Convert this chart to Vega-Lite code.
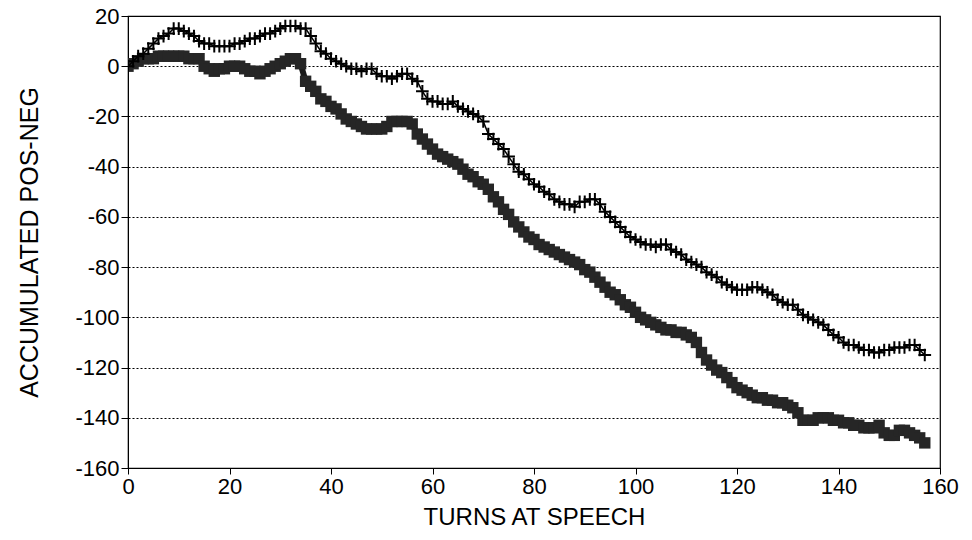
{
  "$schema": "https://vega.github.io/schema/vega-lite/v6.json",
  "width": 812,
  "height": 452,
  "autosize": {"type": "none"},
  "padding": {"left": 128, "top": 16, "right": 32, "bottom": 72},
  "background": "white",
  "config": {
    "view": {"stroke": "black", "strokeWidth": 1.2},
    "font": "Liberation Sans",
    "axis": {
      "domainColor": "black",
      "tickColor": "black",
      "labelColor": "black",
      "titleColor": "black",
      "labelFont": "Liberation Sans",
      "titleFont": "Liberation Sans",
      "titleFontWeight": "normal",
      "labelFontSize": 22,
      "titleFontSize": 24,
      "labelExpr": "'' + datum.value"
    }
  },
  "data": {
    "values": [
      {"turn":0,"a":0,"b":0},{"turn":1,"a":2,"b":1},{"turn":2,"a":4,"b":2},{"turn":3,"a":5,"b":3},{"turn":4,"a":7,"b":3},
      {"turn":5,"a":9,"b":3},{"turn":6,"a":11,"b":4},{"turn":7,"a":12,"b":4},{"turn":8,"a":13,"b":4},{"turn":9,"a":15,"b":4},
      {"turn":10,"a":15,"b":4},{"turn":11,"a":14,"b":4},{"turn":12,"a":13,"b":3},{"turn":13,"a":12,"b":3},{"turn":14,"a":10,"b":3},
      {"turn":15,"a":9,"b":0},{"turn":16,"a":9,"b":-1},{"turn":17,"a":8,"b":-2},{"turn":18,"a":8,"b":-1},{"turn":19,"a":8,"b":-1},
      {"turn":20,"a":8,"b":0},{"turn":21,"a":9,"b":0},{"turn":22,"a":9,"b":0},{"turn":23,"a":10,"b":-1},{"turn":24,"a":11,"b":-2},
      {"turn":25,"a":11,"b":-2},{"turn":26,"a":12,"b":-3},{"turn":27,"a":13,"b":-2},{"turn":28,"a":13,"b":-1},{"turn":29,"a":14,"b":0},
      {"turn":30,"a":15,"b":1},{"turn":31,"a":16,"b":2},{"turn":32,"a":16,"b":3},{"turn":33,"a":16,"b":3},{"turn":34,"a":15,"b":1},
      {"turn":35,"a":15,"b":-6},{"turn":36,"a":12,"b":-8},{"turn":37,"a":9,"b":-10},{"turn":38,"a":6,"b":-13},{"turn":39,"a":5,"b":-14},
      {"turn":40,"a":3,"b":-16},{"turn":41,"a":2,"b":-17},{"turn":42,"a":1,"b":-19},{"turn":43,"a":0,"b":-21},{"turn":44,"a":-1,"b":-22},
      {"turn":45,"a":-1,"b":-23},{"turn":46,"a":-2,"b":-24},{"turn":47,"a":-1,"b":-25},{"turn":48,"a":-1,"b":-25},{"turn":49,"a":-3,"b":-25},
      {"turn":50,"a":-4,"b":-25},{"turn":51,"a":-4,"b":-24},{"turn":52,"a":-5,"b":-22},{"turn":53,"a":-4,"b":-22},{"turn":54,"a":-3,"b":-22},
      {"turn":55,"a":-3,"b":-22},{"turn":56,"a":-5,"b":-23},{"turn":57,"a":-6,"b":-27},{"turn":58,"a":-10,"b":-29},{"turn":59,"a":-13,"b":-31},
      {"turn":60,"a":-14,"b":-33},{"turn":61,"a":-14,"b":-35},{"turn":62,"a":-15,"b":-36},{"turn":63,"a":-15,"b":-37},{"turn":64,"a":-14,"b":-38},
      {"turn":65,"a":-16,"b":-39},{"turn":66,"a":-17,"b":-41},{"turn":67,"a":-18,"b":-43},{"turn":68,"a":-19,"b":-44},{"turn":69,"a":-20,"b":-46},
      {"turn":70,"a":-22,"b":-47},{"turn":71,"a":-27,"b":-49},{"turn":72,"a":-29,"b":-52},{"turn":73,"a":-31,"b":-54},{"turn":74,"a":-33,"b":-57},
      {"turn":75,"a":-36,"b":-59},{"turn":76,"a":-39,"b":-62},{"turn":77,"a":-42,"b":-64},{"turn":78,"a":-43,"b":-66},{"turn":79,"a":-45,"b":-68},
      {"turn":80,"a":-47,"b":-69},{"turn":81,"a":-48,"b":-71},{"turn":82,"a":-50,"b":-72},{"turn":83,"a":-51,"b":-73},{"turn":84,"a":-53,"b":-74},
      {"turn":85,"a":-54,"b":-75},{"turn":86,"a":-55,"b":-76},{"turn":87,"a":-55,"b":-77},{"turn":88,"a":-56,"b":-78},{"turn":89,"a":-54,"b":-79},
      {"turn":90,"a":-54,"b":-81},{"turn":91,"a":-53,"b":-82},{"turn":92,"a":-53,"b":-84},{"turn":93,"a":-55,"b":-86},{"turn":94,"a":-58,"b":-88},
      {"turn":95,"a":-60,"b":-90},{"turn":96,"a":-62,"b":-91},{"turn":97,"a":-64,"b":-93},{"turn":98,"a":-66,"b":-95},{"turn":99,"a":-68,"b":-96},
      {"turn":100,"a":-69,"b":-98},{"turn":101,"a":-70,"b":-100},{"turn":102,"a":-71,"b":-101},{"turn":103,"a":-71,"b":-102},{"turn":104,"a":-72,"b":-103},
      {"turn":105,"a":-71,"b":-104},{"turn":106,"a":-71,"b":-105},{"turn":107,"a":-73,"b":-105},{"turn":108,"a":-74,"b":-106},{"turn":109,"a":-75,"b":-106},
      {"turn":110,"a":-77,"b":-107},{"turn":111,"a":-78,"b":-108},{"turn":112,"a":-79,"b":-110},{"turn":113,"a":-80,"b":-114},{"turn":114,"a":-82,"b":-117},
      {"turn":115,"a":-83,"b":-119},{"turn":116,"a":-84,"b":-121},{"turn":117,"a":-86,"b":-122},{"turn":118,"a":-87,"b":-124},{"turn":119,"a":-88,"b":-126},
      {"turn":120,"a":-89,"b":-128},{"turn":121,"a":-89,"b":-129},{"turn":122,"a":-89,"b":-130},{"turn":123,"a":-88,"b":-131},{"turn":124,"a":-88,"b":-132},
      {"turn":125,"a":-89,"b":-132},{"turn":126,"a":-90,"b":-133},{"turn":127,"a":-91,"b":-133},{"turn":128,"a":-93,"b":-134},{"turn":129,"a":-94,"b":-134},
      {"turn":130,"a":-95,"b":-135},{"turn":131,"a":-95,"b":-136},{"turn":132,"a":-97,"b":-138},{"turn":133,"a":-99,"b":-141},{"turn":134,"a":-100,"b":-141},
      {"turn":135,"a":-101,"b":-141},{"turn":136,"a":-102,"b":-140},{"turn":137,"a":-103,"b":-140},{"turn":138,"a":-105,"b":-140},{"turn":139,"a":-107,"b":-141},
      {"turn":140,"a":-108,"b":-141},{"turn":141,"a":-110,"b":-142},{"turn":142,"a":-111,"b":-142},{"turn":143,"a":-111,"b":-143},{"turn":144,"a":-112,"b":-143},
      {"turn":145,"a":-113,"b":-144},{"turn":146,"a":-113,"b":-144},{"turn":147,"a":-114,"b":-144},{"turn":148,"a":-114,"b":-143},{"turn":149,"a":-113,"b":-146},
      {"turn":150,"a":-113,"b":-147},{"turn":151,"a":-112,"b":-147},{"turn":152,"a":-112,"b":-145},{"turn":153,"a":-112,"b":-145},{"turn":154,"a":-111,"b":-146},
      {"turn":155,"a":-111,"b":-147},{"turn":156,"a":-113,"b":-148},{"turn":157,"a":-115,"b":-150}
    ]
  },
  "encoding": {
    "x": {
      "field": "turn", "type": "quantitative",
      "scale": {"domain": [0, 160], "nice": false, "zero": false},
      "axis": {"title": "TURNS AT SPEECH", "values": [0,20,40,60,80,100,120,140,160], "grid": false, "tickSize": 6, "labelPadding": 2, "titlePadding": 8, "labelFlush": false}
    }
  },
  "layer": [
    {
      "mark": {"type": "line", "color": "#1a1a1a", "strokeWidth": 6, "clip": true},
      "encoding": {
        "y": {
          "field": "b", "type": "quantitative",
          "scale": {"domain": [-160, 20], "nice": false},
          "axis": {"title": "ACCUMULATED POS-NEG", "values": [-160,-140,-120,-100,-80,-60,-40,-20,0,20], "grid": true, "gridColor": "black", "gridDash": [2,2], "gridWidth": 1, "tickSize": 7, "labelPadding": 2, "titlePadding": 32, "titleFontSize": 25}
        }
      }
    },
    {
      "mark": {"type": "point", "shape": "square", "filled": true, "color": "#262626", "size": 130, "opacity": 1, "clip": true},
      "encoding": {"y": {"field": "b", "type": "quantitative"}}
    },
    {
      "mark": {"type": "line", "color": "black", "strokeWidth": 1.5, "clip": true},
      "encoding": {"y": {"field": "a", "type": "quantitative"}}
    },
    {
      "mark": {"type": "point", "shape": "M-1,0L1,0M0,-1L0,1", "filled": false, "color": "black", "strokeWidth": 2, "size": 160, "opacity": 1, "clip": true},
      "encoding": {"y": {"field": "a", "type": "quantitative"}}
    }
  ]
}
